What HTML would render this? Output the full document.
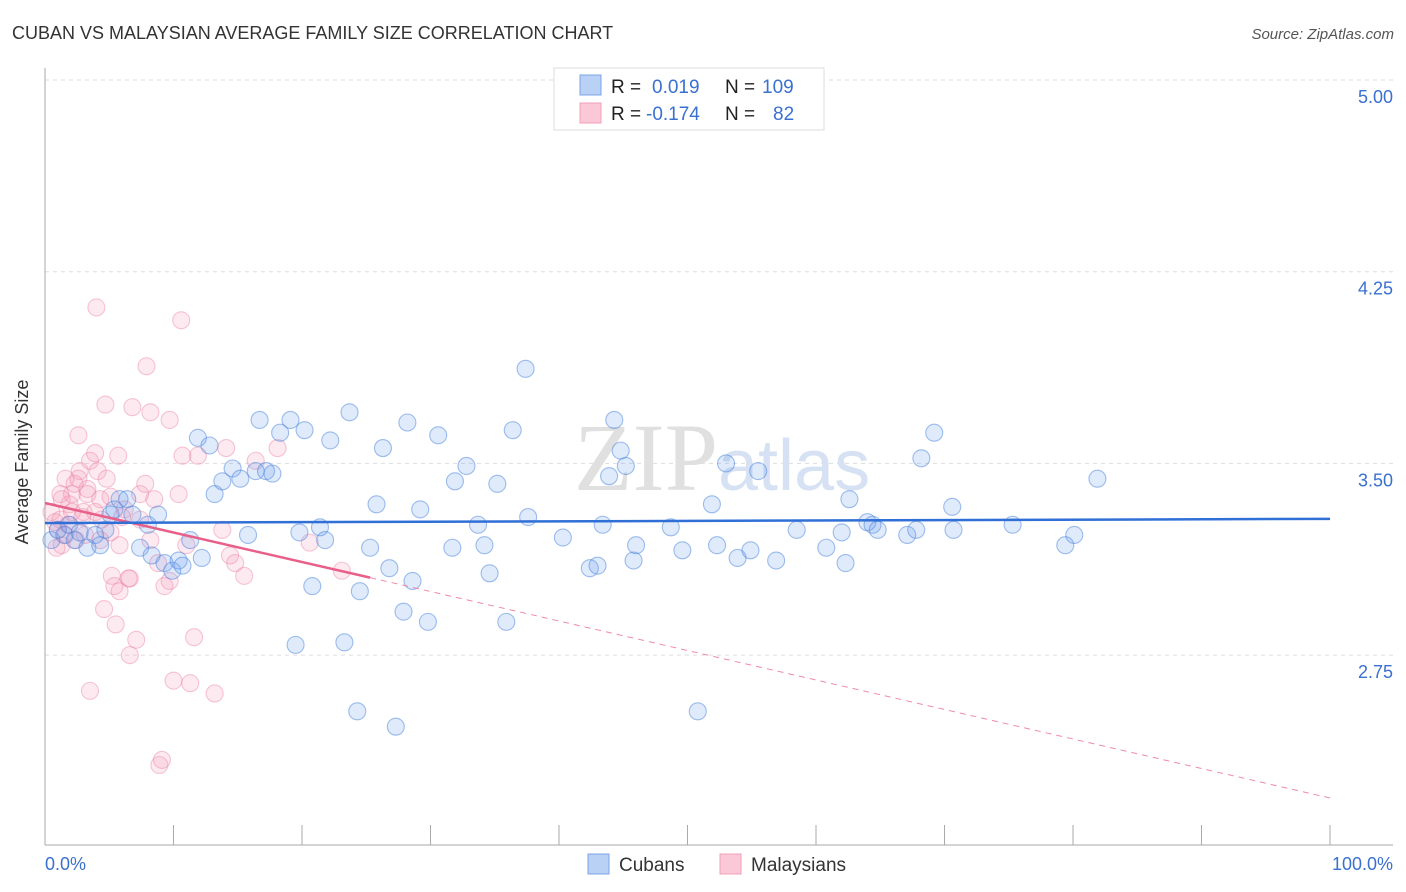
<!DOCTYPE html>
<html><head><meta charset="utf-8"><style>
body{margin:0;background:#fff;font-family:"Liberation Sans",sans-serif;}
svg{display:block}
</style></head><body>
<svg id="chart" width="1406" height="892">
<text x="12" y="39" font-size="18" fill="#333">CUBAN VS MALAYSIAN AVERAGE FAMILY SIZE CORRELATION CHART</text>
<text x="1394" y="39" font-size="15" fill="#555" font-style="italic" text-anchor="end">Source: ZipAtlas.com</text>
<g id="grid"></g>
<text x="718" y="490" font-size="96" font-family="Liberation Serif" fill="#e0e0e0" text-anchor="end">ZIP</text>
<text x="718" y="490" font-size="72" fill="#d6e2f3">atlas</text>
<g id="axes"></g>
<g id="pts"></g>
<g id="trend"></g>
<text x="22" y="456" font-size="18" fill="#333" text-anchor="middle" transform="rotate(-90 28 456)">Average Family Size</text>
<text x="45" y="870" font-size="18" fill="#3a70d0">0.0%</text>
<text x="1393" y="870" font-size="18" fill="#3a70d0" text-anchor="end">100.0%</text>
<g>
<rect x="554" y="68" width="270" height="62" fill="#fff" stroke="#ddd"/>
<rect x="580" y="75" width="21" height="20" fill="#b8d1f5" stroke="#7aa4e6"/>
<rect x="580" y="103" width="21" height="20" fill="#fac8d6" stroke="#f0a0b8"/>
<text y="93" font-size="19"><tspan x="611" fill="#222">R = </tspan><tspan x="652" fill="#3a70d0">0.019</tspan><tspan x="725" fill="#222">N = </tspan><tspan x="762" fill="#3a70d0">109</tspan></text>
<text y="120" font-size="19"><tspan x="611" fill="#222">R = </tspan><tspan x="646" fill="#3a70d0">-0.174</tspan><tspan x="725" fill="#222">N = </tspan><tspan x="773" fill="#3a70d0">82</tspan></text>
</g>
<g>
<rect x="588" y="854" width="21" height="20" fill="#b8d1f5" stroke="#7aa4e6"/>
<text x="619" y="871" font-size="19" fill="#333">Cubans</text>
<rect x="720" y="854" width="21" height="20" fill="#fac8d6" stroke="#f0a0b8"/>
<text x="751" y="871" font-size="19" fill="#333">Malaysians</text>
</g>
</svg>
<script>
const yTicks=[5.00,4.25,3.50,2.75];
const yTickLabels=["5.00","4.25","3.50","2.75"];
const cubanX=[0.5,1.0,1.5,1.9,2.3,2.7,3.3,3.9,4.3,4.7,5.1,5.4,5.8,6.4,6.8,7.4,8.0,8.3,8.8,9.3,9.9,10.4,10.7,11.3,11.9,12.2,12.8,13.2,13.8,14.6,15.2,15.8,16.4,16.7,17.2,17.7,18.3,19.1,19.5,19.8,20.2,20.8,21.4,21.8,22.2,23.3,23.7,24.3,24.5,25.3,25.8,26.3,26.8,27.3,27.9,28.2,28.6,29.2,29.8,30.6,31.7,31.9,32.8,33.7,34.2,34.6,35.2,35.9,36.4,37.4,37.6,40.3,42.4,43.0,43.4,43.9,44.3,44.8,45.2,45.8,46.0,48.7,49.6,50.8,51.9,52.3,53.0,53.9,54.9,55.5,56.9,58.5,60.8,62.0,62.3,62.6,64.0,64.4,64.8,67.1,67.8,68.2,69.2,70.6,70.7,75.3,79.4,80.1,81.9];
const cubanY=[3.20,3.24,3.22,3.26,3.20,3.23,3.17,3.22,3.18,3.24,3.30,3.32,3.36,3.36,3.30,3.17,3.26,3.14,3.30,3.11,3.08,3.12,3.10,3.20,3.60,3.13,3.57,3.38,3.43,3.48,3.44,3.22,3.47,3.67,3.47,3.46,3.62,3.67,2.79,3.23,3.63,3.02,3.25,3.20,3.59,2.80,3.70,2.53,3.00,3.17,3.34,3.56,3.09,2.47,2.92,3.66,3.04,3.32,2.88,3.61,3.17,3.43,3.49,3.26,3.18,3.07,3.42,2.88,3.63,3.87,3.29,3.21,3.09,3.10,3.26,3.45,3.67,3.55,3.49,3.12,3.18,3.25,3.16,2.53,3.34,3.18,3.50,3.13,3.16,3.47,3.12,3.24,3.17,3.23,3.11,3.36,3.27,3.26,3.24,3.22,3.24,3.52,3.62,3.33,3.24,3.26,3.18,3.22,3.44];
const malayX=[0.5,0.8,1.0,1.2,1.3,1.6,1.8,1.9,2.1,2.3,2.6,2.7,3.0,3.1,3.3,3.5,3.9,4.1,4.0,4.3,4.4,4.7,4.8,5.1,5.2,5.4,5.5,5.7,5.8,6.0,6.2,6.5,6.6,6.8,7.1,7.4,7.8,7.9,8.2,8.5,8.8,8.9,9.1,9.3,9.7,10.0,10.4,10.6,10.7,11.0,11.3,11.6,11.9,13.2,13.8,14.1,14.4,14.8,15.5,16.4,18.1,20.6,23.1,3.5,6.6,5.1,3.3,3.9,1.2,1.6,2.1,2.4,2.9,4.3,5.8,7.4,0.9,1.3,2.6,8.2,9.7,4.6];
const malayY=[3.31,3.27,3.24,3.28,3.18,3.22,3.26,3.34,3.38,3.42,3.61,3.47,3.31,3.22,3.40,3.51,3.54,3.47,4.11,3.36,3.28,3.73,3.44,3.37,3.06,3.02,2.87,3.53,3.18,3.29,3.32,3.05,2.75,3.72,2.81,3.38,3.42,3.88,3.70,3.36,3.11,2.32,2.34,3.02,3.67,2.65,3.38,4.06,3.53,3.18,2.64,2.82,3.53,2.60,3.24,3.56,3.14,3.11,3.06,3.51,3.56,3.19,3.08,2.61,3.05,3.23,3.38,3.31,3.38,3.44,3.31,3.20,3.29,3.20,3.00,3.28,3.17,3.36,3.44,3.20,3.04,2.93];
const cubanTrend=[3.267,3.283];
const malayTrend=[3.345,2.191];
const malaySolidEnd=25.3;

const NS="http://www.w3.org/2000/svg";
const X=v=>45+v*12.85;
const Y=v=>80+(5-v)*255.6;
function mk(tag,attrs,parent){const e=document.createElementNS(NS,tag);for(const k in attrs)e.setAttribute(k,attrs[k]);parent.appendChild(e);return e;}
const grid=document.getElementById('grid'),axes=document.getElementById('axes'),pts=document.getElementById('pts'),trend=document.getElementById('trend');
yTicks.forEach((t,i)=>{
 const l=mk('line',{x1:45,x2:1393,y1:Y(t),y2:Y(t),stroke:'#ddd','stroke-dasharray':'4,4'},grid);
 
 
 const tx=mk('text',{x:1393,y:Y(t)+23,'font-size':18,fill:'#3a70d0','text-anchor':'end'},grid);
 tx.textContent=yTickLabels[i];
 
 
});
let a=mk('line',{x1:45,x2:45,y1:68,y2:845,stroke:'#aaa'},axes);


a=mk('line',{x1:45,x2:1393,y1:845,y2:845,stroke:'#aaa'},axes);


for(let i=0;i<=10;i++){
 const t=mk('line',{x1:X(i*10),x2:X(i*10),y1:825,y2:845,stroke:'#aaa'},axes);
 
 
}
malayX.forEach((x,i)=>{
 const c=mk('circle',{cx:X(x),cy:Y(malayY[i]),r:8.5,fill:'rgba(245,150,180,0.2)',stroke:'rgba(235,130,165,0.45)','stroke-width':1.1},pts);
 
 
});
cubanX.forEach((x,i)=>{
 const c=mk('circle',{cx:X(x),cy:Y(cubanY[i]),r:8.5,fill:'rgba(110,160,235,0.22)',stroke:'rgba(70,130,220,0.5)','stroke-width':1.1},pts);
 
 
});
const mAt=x=>malayTrend[0]+(malayTrend[1]-malayTrend[0])*x/100;
let tl=mk('line',{x1:X(malaySolidEnd),y1:Y(mAt(malaySolidEnd)),x2:X(100),y2:Y(malayTrend[1]),stroke:'#f08aa8','stroke-width':1,'stroke-dasharray':'6,5'},trend);


tl=mk('line',{x1:X(0),y1:Y(malayTrend[0]),x2:X(malaySolidEnd),y2:Y(mAt(malaySolidEnd)),stroke:'#e8608a','stroke-width':2.5},trend);


tl=mk('line',{x1:X(0),y1:Y(cubanTrend[0]),x2:X(100),y2:Y(cubanTrend[1]),stroke:'#2f6fd6','stroke-width':2.5},trend);


</script>
</body></html>
